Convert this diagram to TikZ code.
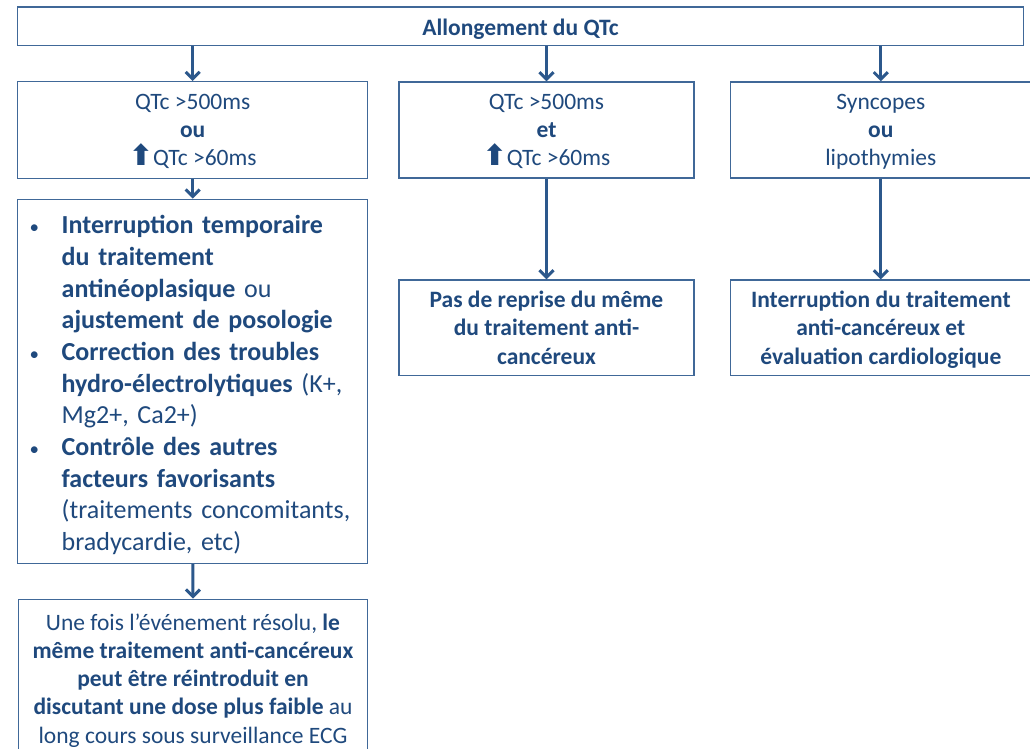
\documentclass[tikz,border=0pt]{standalone}
\usepackage{fontspec}
\setmainfont{Carlito}
\newfontfamily\arrowfont{DejaVu Sans}
\usetikzlibrary{arrows.meta}

\definecolor{qtText}{RGB}{31,73,125}
\definecolor{qtLine}{RGB}{64,104,152}
\definecolor{qtArrow}{RGB}{44,88,140}

\newcommand{\upArr}{{\arrowfont\bfseries\fontsize{29}{29}\selectfont ⬆}}
\newcommand{\bul}{{\fontsize{19}{19}\selectfont\textbullet}}

\begin{document}
\begin{tikzpicture}[x=1pt,y=-1pt,
    box/.style={draw=qtLine, line width=1.4pt, inner sep=0pt, align=center,
        text=qtText, text depth=-2.5pt, font=\fontsize{23.5}{28.3}\selectfont},
    flow/.style={qtArrow, line width=3pt,
        -{Straight Barb[length=7pt,width=14pt,line width=3pt]}}]
    \useasboundingbox (0,0) rectangle (1030,748);

    % top of the chart
    \node[box, minimum width=1005.6pt, minimum height=38.5pt, text height=22pt,
        text depth=] (qtc) at (520.5,26.3)
        {\textbf{Allongement du QTc}};

    % three conditions
    \node[box, minimum width=350pt, minimum height=96.6pt, text depth=-5pt]
        (cond1) at (192.7,130)
        {QTc >500ms\\ \textbf{ou}\\ \upArr QTc >60ms};
    \node[box, minimum width=295pt, minimum height=96pt, text depth=-5pt]
        (cond2) at (546.5,130)
        {QTc >500ms\\ \textbf{et}\\ \upArr QTc >60ms};
    \node[box, minimum width=300.3pt, minimum height=96pt] (cond3) at (880.8,130)
        {Syncopes\\ \textbf{ou}\\ lipothymies};

    % what to do
    \node[box, minimum width=350pt, minimum height=364pt, text width=326pt,
        inner xsep=12pt, align=left, text height=31.2pt, text depth=,
        font=\fontsize{26}{31.7}\selectfont]
        (act1) at (192.7,381.3)
        {\begin{tabular}[t]{@{}p{32pt}@{}l@{}}
            \bul & \textbf{Interruption temporaire}\\
                 & \textbf{du traitement}\\
                 & \textbf{antinéoplasique} ou\\
                 & \textbf{ajustement de posologie}\\
            \bul & \textbf{Correction des troubles}\\
                 & \textbf{hydro-électrolytiques} (K+,\\
                 & Mg2+, Ca2+)\\
            \bul & \textbf{Contrôle des autres}\\
                 & \textbf{facteurs favorisants}\\
                 & (traitements concomitants,\\
                 & bradycardie, etc)
        \end{tabular}};
    \node[box, minimum width=295pt, minimum height=95.3pt, text depth=-6.5pt]
        (act2) at (546.5,327.7)
        {\textbf{Pas de reprise du même}\\ \textbf{du traitement anti-}\\ \textbf{cancéreux}};
    \node[box, minimum width=300.3pt, minimum height=95.3pt] (act3) at (880.8,327.7)
        {\textbf{Interruption du traitement}\\ \textbf{anti-cancéreux et}\\
         \textbf{évaluation cardiologique}};

    % follow-up
    \node[box, minimum width=349.4pt, minimum height=158pt] (reprise) at (193,678.3)
        {Une fois l’événement résolu, \textbf{le}\\
         \textbf{même traitement anti-cancéreux}\\
         \textbf{peut être réintroduit en}\\
         \textbf{discutant une dose plus faible} au\\
         long cours sous surveillance ECG};

    \foreach \c in {cond1,cond2,cond3}
        \draw[flow] (\c.north |- qtc.south) -- (\c.north);
    \draw[flow] (cond1) -- (act1);
    \draw[flow] (cond2) -- (act2);
    \draw[flow] (cond3) -- (act3);
    \draw[flow] (act1) -- (reprise);
\end{tikzpicture}
\end{document}
